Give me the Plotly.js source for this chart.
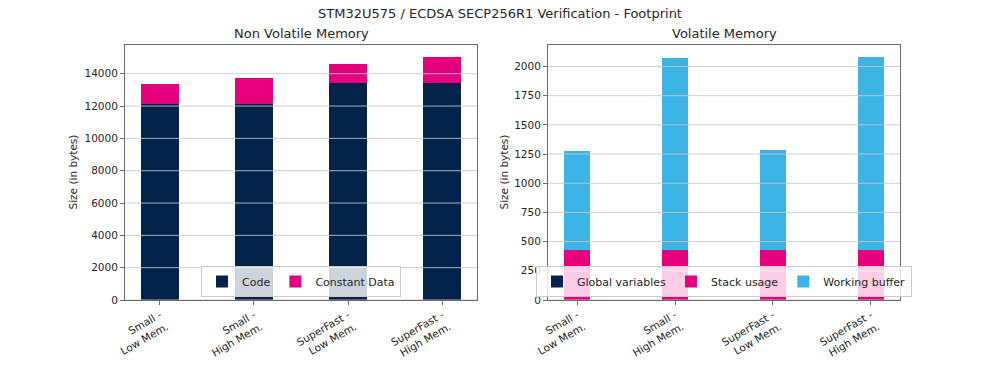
<!DOCTYPE html>
<html>
<head>
<meta charset="utf-8">
<script src="https://cdn.plot.ly/plotly-3.0.1.min.js"></script>
<style>html,body{margin:0;padding:0;background:#fff;}#chart{width:1000px;height:375px;}</style>
</head>
<body>
<div id="chart"></div>
<script>
const categories = ["Small -<br>Low Mem.", "Small -<br>High Mem.", "SuperFast -<br>Low Mem.", "SuperFast -<br>High Mem."];
const codeSize = [12150, 12150, 13420, 13420];
const constantData = [1190, 1560, 1195, 1605];
const globalVariables = [4, 4, 4, 4];
const stackUsage = [420, 420, 426, 426];
const workingBuffer = [852, 1650, 858, 1650];
const nvTicks = [0, 2000, 4000, 6000, 8000, 10000, 12000, 14000];
const vTicks = [0, 250, 500, 750, 1000, 1250, 1500, 1750, 2000];

const navy = "#03234B", pink = "#E6007E", sky = "#3CB4E6";
const FONT = "DejaVu Sans, sans-serif";
const xs = categories.map((_, i) => i);

const traces = [
  {type: "bar", x: xs, y: codeSize, name: "Code", marker: {color: navy}, width: 0.4, xaxis: "x", yaxis: "y", legend: "legend"},
  {type: "bar", x: xs, y: constantData, name: "Constant Data", marker: {color: pink}, width: 0.4, xaxis: "x", yaxis: "y", legend: "legend"},
  {type: "bar", x: xs, y: globalVariables, name: "Global variables", marker: {color: navy}, width: 0.8/3, xaxis: "x2", yaxis: "y2", legend: "legend2"},
  {type: "bar", x: xs, y: stackUsage, name: "Stack usage", marker: {color: pink}, width: 0.8/3, xaxis: "x2", yaxis: "y2", legend: "legend2"},
  {type: "bar", x: xs, y: workingBuffer, name: "Working buffer", marker: {color: sky}, width: 0.8/3, xaxis: "x2", yaxis: "y2", legend: "legend2"}
];

function maxStack(arrs){ return Math.max(...arrs[0].map((_, i) => arrs.reduce((s, a) => s + a[i], 0))); }
const nvMax = maxStack([codeSize, constantData]) * 1.05;
const vMax = maxStack([globalVariables, stackUsage, workingBuffer]) * 1.05;

const axisCommon = {
  showline: true, mirror: true, linecolor: "#6b6b6b", linewidth: 1,
  ticks: "outside", ticklen: 4, tickcolor: "#6b6b6b", tickwidth: 1,
  tickfont: {family: FONT, size: 10.5, color: "#262626"}, zeroline: false, showgrid: false
};

const shapes = [];
nvTicks.forEach(v => shapes.push({type: "line", xref: "x domain", yref: "y", x0: 0, x1: 1, y0: v, y1: v, layer: "above", line: {color: "rgba(200,200,200,0.85)", width: 1}}));
vTicks.forEach(v => shapes.push({type: "line", xref: "x2 domain", yref: "y2", x0: 0, x1: 1, y0: v, y1: v, layer: "above", line: {color: "rgba(200,200,200,0.85)", width: 1}}));

const legendCommon = {
  orientation: "h", xanchor: "center", yanchor: "bottom", y: 78/375,
  bgcolor: "rgba(255,255,255,0.8)", bordercolor: "#cccccc", borderwidth: 1,
  font: {family: FONT, size: 11, color: "#262626"}, traceorder: "normal"
};

const layout = {
  width: 1000, height: 375,
  margin: {l: 0, r: 0, t: 0, b: 0},
  paper_bgcolor: "#fff", plot_bgcolor: "#fff",
  barmode: "stack", bargap: 0,
  showlegend: true,
  font: {family: FONT, color: "#262626"},
  title: {text: "STM32U575 / ECDSA SECP256R1 Verification - Footprint", x: 0.5, xanchor: "center", y: 1 - 13/375, yanchor: "middle", font: {family: FONT, size: 13, color: "#262626"}},
  xaxis: Object.assign({}, axisCommon, {domain: [0.125, 0.477], range: [-0.37, 3.37], tickvals: xs, ticktext: categories, tickangle: -30, anchor: "y"}),
  yaxis: Object.assign({}, axisCommon, {domain: [0.2, 0.88], range: [0, nvMax], tickvals: nvTicks, tickformat: "d", anchor: "x"}),
  xaxis2: Object.assign({}, axisCommon, {domain: [0.548, 0.9], range: [-0.2967, 3.2967], tickvals: xs, ticktext: categories, tickangle: -30, anchor: "y2"}),
  yaxis2: Object.assign({}, axisCommon, {domain: [0.2, 0.88], range: [0, vMax], tickvals: vTicks, tickformat: "d", anchor: "x2"}),
  legend: Object.assign({}, legendCommon, {x: 0.301}),
  legend2: Object.assign({}, legendCommon, {x: 0.724}),
  shapes: shapes,
  annotations: [
    {text: "Non Volatile Memory", xref: "paper", yref: "paper", x: 0.301, y: 1 - 33.5/375, xanchor: "center", yanchor: "middle", showarrow: false, font: {family: FONT, size: 13, color: "#262626"}},
    {text: "Volatile Memory", xref: "paper", yref: "paper", x: 0.724, y: 1 - 33.5/375, xanchor: "center", yanchor: "middle", showarrow: false, font: {family: FONT, size: 13, color: "#262626"}},
    {text: "Size (in bytes)", xref: "paper", yref: "paper", x: 0.072, y: 0.54, xanchor: "center", yanchor: "middle", textangle: -90, showarrow: false, font: {family: FONT, size: 10.5, color: "#262626"}},
    {text: "Size (in bytes)", xref: "paper", yref: "paper", x: 0.503, y: 0.54, xanchor: "center", yanchor: "middle", textangle: -90, showarrow: false, font: {family: FONT, size: 10.5, color: "#262626"}}
  ]
};

Plotly.newPlot("chart", traces, layout, {staticPlot: true, displayModeBar: false});
</script>
</body>
</html>
